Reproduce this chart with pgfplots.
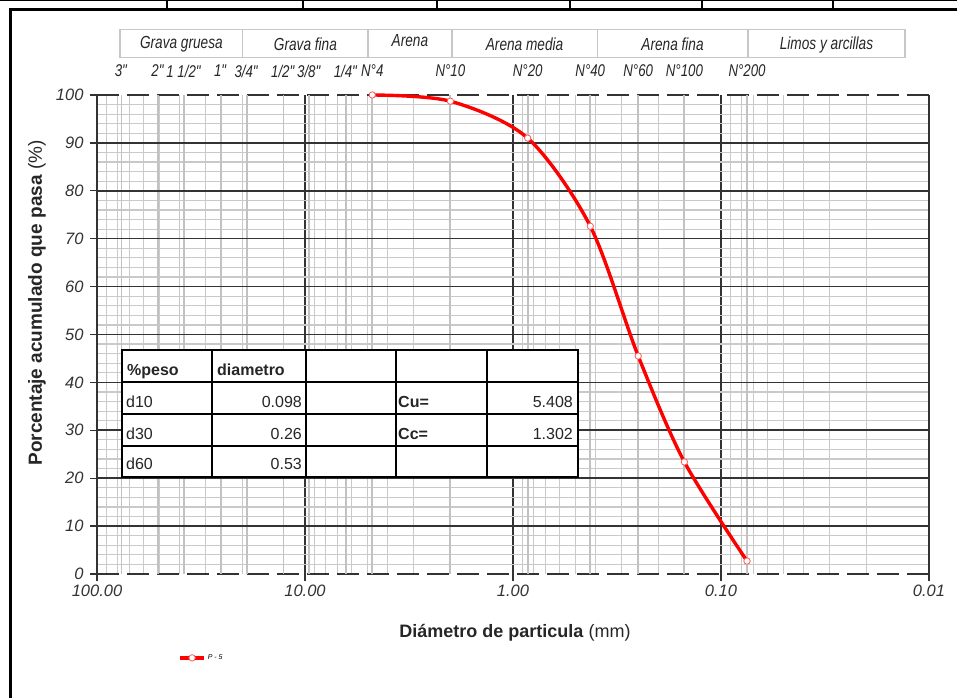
\documentclass[border=0pt]{standalone}
\usepackage{fontspec}
\setmainfont{Liberation Sans}
\newfontfamily\narrow{Liberation Sans}[FakeStretch=0.78]
\usepackage{pgfplots}
\pgfplotsset{compat=1.18}

\begin{document}
\begin{tikzpicture}[x=1pt,y=1pt]
\begin{axis}[
  at={(0,0)}, anchor=south west,
  scale only axis, width=832pt, height=479pt,
  xmode=log, x dir=reverse,
  xmin=0.01, xmax=100, ymin=0, ymax=100,
  clip=false,
  xtick={100,10,1,0.1,0.01},
  xticklabels={100.00,10.00,1.00,0.10,0.01},
  minor xtick={0.02,0.03,0.04,0.05,0.06,0.07,0.08,0.09,
               0.2,0.3,0.4,0.5,0.6,0.7,0.8,0.9,
               2,3,4,5,6,7,8,9,20,30,40,50,60,70,80,90},
  ytick={0,10,20,30,40,50,60,70,80,90,100},
  yticklabels={0,10,20,30,40,50,60,70,80,90,100},
  minor y tick num=4,
  xmajorgrids, xminorgrids, yminorgrids,
  major grid style={black!80, line width=1.6pt},
  minor grid style={black!21, line width=1.2pt},
  extra y ticks={10,20,30,40,50,60,70,80,90},
  extra y tick labels={},
  extra y tick style={grid=major, major grid style={black!80, line width=1.6pt}},
  extra x ticks={76.2,50.8,38.1,25.4,19.05,12.7,9.525,6.35,4.75,2.0,0.85,0.425,0.25,0.15,0.075},
  extra x tick labels={},
  extra x tick style={grid=major, major tick length=0pt, major grid style={black!24, line width=1.8pt}},
  separate axis lines,
  x axis line style={black!80, line width=1.7pt, dash pattern=on 22pt off 8pt},
  y axis line style={black!80, line width=1.7pt},
  tick pos=left, tick align=outside,
  major tick length=7pt, minor tick length=0pt,
  tick style={black!80, line width=1.4pt},
  ticklabel style={font=\fontsize{16.5}{18}\selectfont\itshape, text=black!80},
  yticklabel style={xshift=-3pt},
  legend style={at={(axis description cs:0.094,-0.175)}, anchor=west,
    draw=none, fill=none, font=\fontsize{7}{8}\selectfont\itshape},
  legend image code/.code={\draw[mark repeat=2,mark phase=2,#1] plot coordinates {(0pt,0pt)(12pt,0pt)(24pt,0pt)};},
]
% curva granulometrica P-5
\addplot[red, line width=3.4pt, smooth, mark=*, mark size=3.2pt,
  mark options={draw=red!65, fill=white, line width=0.8pt, solid}]
  coordinates {(4.75,100) (2.0,98.7) (0.85,91.0) (0.425,72.6) (0.25,45.5) (0.15,23.4) (0.075,2.7)};
\addlegendentry{P - 5}

% clasificacion
\draw[black!22, line width=1.2pt] (axis cs:77.5,107.9) rectangle (axis cs:0.01304,113.6);
\draw[black!22, line width=1.2pt] (axis cs:19.9,107.9) -- (axis cs:19.9,113.6);
\draw[black!22, line width=1.2pt] (axis cs:4.98,107.9) -- (axis cs:4.98,113.6);
\draw[black!22, line width=1.2pt] (axis cs:1.965,107.9) -- (axis cs:1.965,113.6);
\draw[black!22, line width=1.2pt] (axis cs:0.394,107.9) -- (axis cs:0.394,113.6);
\draw[black!22, line width=1.2pt] (axis cs:0.0742,107.9) -- (axis cs:0.0742,113.6);
\begin{scope}[every node/.style={font=\narrow\itshape\fontsize{17.5}{19}\selectfont, text=black!85}]
\node at (axis cs:39.3,110.5) {Grava gruesa};
\node at (axis cs:9.95,110.5) {Grava fina};
\node at (axis cs:3.13,111.4) {Arena};
\node at (axis cs:0.88,110.5) {Arena media};
\node at (axis cs:0.171,110.5) {Arena fina};
\node at (axis cs:0.0311,110.5) {Limos y arcillas};
\end{scope}
\begin{scope}[every node/.style={font=\narrow\itshape\fontsize{17}{19}\selectfont, text=black!85}]
\node at (axis cs:76.2,105.0) {3\textquotedbl};
\node at (axis cs:50.8,105.0) {2\textquotedbl};
\node at (axis cs:38.1,105.0) {1 1/2\textquotedbl};
\node at (axis cs:25.4,105.0) {1\textquotedbl};
\node at (axis cs:19.05,105.0) {3/4\textquotedbl};
\node at (axis cs:12.7,105.0) {1/2\textquotedbl};
\node at (axis cs:9.525,105.0) {3/8\textquotedbl};
\node at (axis cs:6.35,105.0) {1/4\textquotedbl};
\node at (axis cs:4.75,105.0) {N°4};
\node at (axis cs:2.0,105.0) {N°10};
\node at (axis cs:0.85,105.0) {N°20};
\node at (axis cs:0.425,105.0) {N°40};
\node at (axis cs:0.25,105.0) {N°60};
\node at (axis cs:0.15,105.0) {N°100};
\node at (axis cs:0.075,105.0) {N°200};
\end{scope}
\end{axis}

% titulos de ejes
\node[rotate=90, font=\fontsize{19}{21}\selectfont, text=black!85] at (-60,271)
  {\textbf{Porcentaje acumulado que pasa} (\%)};
\node[font=\fontsize{18}{20}\selectfont, text=black!85] at (418,-59)
  {\textbf{Diámetro de particula} (mm)};

% tabla
\draw[fill=white, line width=1.4pt] (25,97) rectangle (481,224);
\foreach \xx in {115,209,299,390} \draw[line width=1.4pt] (\xx,97) -- (\xx,224);
\foreach \yy in {128,160,192} \draw[line width=1.4pt] (25,\yy) -- (481,\yy);
\begin{scope}[every node/.style={font=\fontsize{16}{18}\selectfont, text=black!85, inner sep=0pt}]
\node[anchor=base west] at (30,198) {\textbf{\%peso}};
\node[anchor=base west] at (120,198) {\textbf{diametro}};
\node[anchor=base west] at (29,166) {d10};
\node[anchor=base west] at (29,134) {d30};
\node[anchor=base west] at (29,104) {d60};
\node[anchor=base east] at (205,166) {0.098};
\node[anchor=base east] at (205,134) {0.26};
\node[anchor=base east] at (205,104) {0.53};
\node[anchor=base west] at (301,166) {\textbf{Cu=}};
\node[anchor=base west] at (301,134) {\textbf{Cc=}};
\node[anchor=base east] at (476,166) {5.408};
\node[anchor=base east] at (476,134) {1.302};
\end{scope}

% marco
\draw[line width=3pt] (-86,564) -- (860,564);
\draw[line width=3pt] (-86,565.5) -- (-86,-124);
\draw[line width=1pt] (-97,573.5) -- (860,573.5);
\foreach \xx in {70,206,340,473,605,736} \draw[line width=1.5pt] (\xx,564) -- (\xx,574);

\pgfresetboundingbox
\path[use as bounding box] (-97,-124) rectangle (860,574);
\end{tikzpicture}
\end{document}
